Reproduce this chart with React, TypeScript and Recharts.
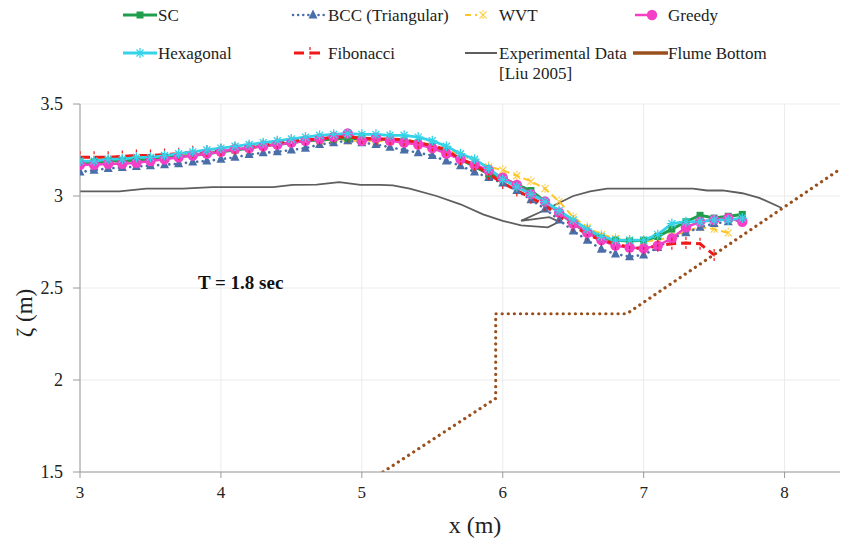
import React from "react";
import { ComposedChart, Line, XAxis, YAxis, CartesianGrid, Legend, ReferenceDot } from "recharts";

const xs = [
  3.0, 3.1, 3.2, 3.3, 3.4, 3.5, 3.6, 3.7, 3.8, 3.9,
  4.0, 4.1, 4.2, 4.3, 4.4, 4.5, 4.6, 4.7, 4.8, 4.9,
  5.0, 5.1, 5.2, 5.3, 5.4, 5.5, 5.6, 5.7, 5.8, 5.9,
  6.0, 6.1, 6.2, 6.3, 6.4, 6.5, 6.6, 6.7, 6.8, 6.9,
  7.0, 7.1, 7.2, 7.3, 7.4, 7.5, 7.6, 7.7, 7.8,
];

const scVals = [
  3.18, 3.185, 3.19, 3.19, 3.195, 3.2, 3.21, 3.215, 3.22, 3.23,
  3.24, 3.25, 3.26, 3.275, 3.28, 3.29, 3.3, 3.305, 3.31, 3.315,
  3.31, 3.31, 3.305, 3.3, 3.29, 3.27, 3.24, 3.2, 3.16, 3.12,
  3.1, 3.06, 3.03, 2.97, 2.91, 2.85, 2.8, 2.77, 2.76, 2.755,
  2.76, 2.78, 2.82, 2.86, 2.895, 2.88, 2.89, 2.9, null,
];

const bccVals = [
  3.13, 3.14, 3.15, 3.155, 3.16, 3.165, 3.17, 3.175, 3.185, 3.19,
  3.2, 3.21, 3.225, 3.235, 3.24, 3.25, 3.26, 3.28, 3.29, 3.3,
  3.29, 3.28, 3.265, 3.25, 3.235, 3.22, 3.19, 3.165, 3.13, 3.1,
  3.07, 3.03, 2.98, 2.93, 2.87, 2.81, 2.76, 2.71, 2.685, 2.67,
  2.68, 2.72, 2.77, 2.8, 2.83, 2.85, 2.86, 2.87, null,
];

const wvtVals = [
  3.18, 3.18, 3.19, 3.19, 3.2, 3.2, 3.21, 3.22, 3.23, 3.235,
  3.24, 3.25, 3.26, 3.27, 3.28, 3.29, 3.3, 3.3, 3.305, 3.3,
  3.3, 3.3, 3.295, 3.29, 3.285, 3.275, 3.255, 3.225, 3.19, 3.16,
  3.14, 3.11, 3.08, 3.04, 2.97, 2.885, 2.83, 2.79, 2.77, 2.76,
  2.755, 2.76, 2.78, 2.81, 2.83, 2.82, 2.8, null, null,
];

const greedyVals = [
  3.17, 3.17, 3.175, 3.175, 3.18, 3.19, 3.2, 3.21, 3.22, 3.23,
  3.24, 3.255, 3.26, 3.27, 3.28, 3.29, 3.3, 3.31, 3.32, 3.34,
  3.3, 3.315, 3.3, 3.29, 3.28, 3.26, 3.23, 3.2, 3.17, 3.14,
  3.1, 3.06, 3.01, 2.97, 2.91, 2.85, 2.8, 2.76, 2.73, 2.72,
  2.715, 2.73, 2.77, 2.83, 2.86, 2.87, 2.88, 2.86, null,
];

const hexVals = [
  3.19, 3.19, 3.2, 3.2, 3.21, 3.21, 3.22, 3.23, 3.24, 3.25,
  3.26, 3.27, 3.28, 3.29, 3.3, 3.31, 3.32, 3.33, 3.335, 3.34,
  3.335, 3.335, 3.33, 3.33, 3.32, 3.3, 3.27, 3.23, 3.2, 3.15,
  3.09, 3.05, 3.01, 2.97, 2.92, 2.87, 2.82, 2.78, 2.76, 2.76,
  2.76, 2.79, 2.85, 2.86, 2.86, 2.87, 2.87, 2.88, null,
];

const fibVals = [
  3.21, 3.21, 3.21, 3.215, 3.22, 3.22, 3.225, 3.23, 3.24, 3.245,
  3.25, 3.26, 3.265, 3.275, 3.29, 3.3, 3.305, 3.31, 3.32, 3.32,
  3.315, 3.31, 3.31, 3.305, 3.29, 3.275, 3.25, 3.2, 3.17, 3.12,
  3.07, 3.03, 2.99, 2.95, 2.89, 2.84, 2.79, 2.76, 2.74, 2.72,
  2.715, 2.73, 2.74, 2.745, 2.74, 2.68, null, null, null,
];

const expX = [
  3.0, 3.28, 3.47, 3.73, 3.94, 4.37, 4.51, 4.68, 4.84, 4.99,
  5.13, 5.22, 5.34, 5.53, 5.7, 5.86, 6.0, 6.13, 6.32, 6.4,
  6.33, 6.13, 6.26, 6.38, 6.5, 6.62, 6.74, 7.35, 7.45, 7.56,
  7.7, 7.82, 7.98,
];
const expY = [
  3.025, 3.025, 3.04, 3.04, 3.048, 3.048, 3.06, 3.062, 3.075, 3.06,
  3.06, 3.058, 3.04, 3.0, 2.955, 2.9, 2.865, 2.84, 2.83, 2.86,
  2.885, 2.865, 2.91, 2.955, 3.0, 3.025, 3.04, 3.04, 3.03, 3.03,
  3.015, 2.99, 2.935,
];

const flumeX = [5.15, 5.95, 5.95, 6.88, 8.45];
const flumeY = [1.5, 1.9, 2.36, 2.36, 3.175];

const xTicks = [3, 4, 5, 6, 7, 8];
const yTicks = [1.5, 2, 2.5, 3, 3.5];

const C = {
  sc: "#1f9f4c",
  bcc: "#4a6fa8",
  wvt: "#ffc526",
  greedy: "#f43fc6",
  hex: "#34d3ea",
  fib: "#f01818",
  exp: "#5e5e5e",
  flume: "#9a501c",
};

const toPts = (x: number[], y: (number | null)[]) =>
  x.map((v, i) => ({ x: v, y: y[i] })).filter((p) => p.y !== null && p.y !== undefined);

const scData = toPts(xs, scVals);
const bccData = toPts(xs, bccVals);
const wvtData = toPts(xs, wvtVals);
const greedyData = toPts(xs, greedyVals);
const hexData = toPts(xs, hexVals);
const fibData = toPts(xs, fibVals);
const expData = toPts(expX, expY);
const flumeData = toPts(flumeX, flumeY);

const FONT = "'Liberation Serif', 'Times New Roman', serif";
const legStyle = { fontFamily: FONT, fontSize: 17, fill: "#222" };
const tickStyleY = { fontFamily: FONT, fontSize: 18, fill: "#222" };
const tickStyleX = { fontFamily: FONT, fontSize: 17, fill: "#222" };

const Square = (cx: number, cy: number, k: any) => (
  <rect key={k} x={cx - 3.5} y={cy - 3.5} width={7} height={7} fill={C.sc} />
);
const Tri = (cx: number, cy: number, k: any) => (
  <polygon key={k} points={`${cx},${cy - 5.5} ${cx - 4.5},${cy + 3.5} ${cx + 4.5},${cy + 3.5}`} fill={C.bcc} />
);
const Circ = (cx: number, cy: number, k: any) => <circle key={k} cx={cx} cy={cy} r={5.2} fill={C.greedy} />;
const Star = (cx: number, cy: number, k: any) => (
  <g key={k} stroke={C.hex} strokeWidth={1.3}>
    <line x1={cx - 5} y1={cy} x2={cx + 5} y2={cy} />
    <line x1={cx} y1={cy - 5} x2={cx} y2={cy + 5} />
    <line x1={cx - 3.5} y1={cy - 3.5} x2={cx + 3.5} y2={cy + 3.5} />
    <line x1={cx - 3.5} y1={cy + 3.5} x2={cx + 3.5} y2={cy - 3.5} />
  </g>
);
const Plus = (cx: number, cy: number, k: any) => (
  <g key={k} stroke={C.fib} strokeWidth={1.2}>
    <line x1={cx} y1={cy - 6} x2={cx} y2={cy + 6} strokeDasharray="3 1.5" />
  </g>
);
const XMark = (cx: number, cy: number, k: any) => (
  <g key={k} stroke={C.wvt} strokeWidth={1.1} opacity={0.85}>
    <line x1={cx - 3.5} y1={cy - 3.5} x2={cx + 3.5} y2={cy + 3.5} />
    <line x1={cx - 3.5} y1={cy + 3.5} x2={cx + 3.5} y2={cy - 3.5} />
    <line x1={cx} y1={cy - 5} x2={cx} y2={cy + 5} strokeDasharray="2 1.5" />
  </g>
);

const dotFn = (shape: (cx: number, cy: number, k: any) => React.ReactElement, name: string) => (p: any) => {
  const k = `${name}-${p.index}`;
  if (p.cx == null || p.cy == null) return <g key={k} />;
  return shape(p.cx, p.cy, k);
};

const LegendContent = () => {
  const col = [123, 293, 465, 633];
  const txt = [158, 328, 499, 668];
  const r1 = 15;
  const r2 = 53;
  const T = (x: number, y: number, s: string) => (
    <text x={x} y={y} dominantBaseline="central" style={legStyle}>{s}</text>
  );
  return (
    <svg width={848} height={90} style={{ display: "block" }}>
      <line x1={col[0]} y1={r1} x2={col[0] + 34} y2={r1} stroke={C.sc} strokeWidth={3} />
      {Square(col[0] + 17, r1, "l1")}
      {T(txt[0], r1, "SC")}
      <line x1={col[1]} y1={r1} x2={col[1] + 34} y2={r1} stroke={C.bcc} strokeWidth={2.5} strokeDasharray="0.1 5" strokeLinecap="round" />
      {Tri(col[1] + 20, r1, "l2")}
      {T(txt[1], r1, "BCC (Triangular)")}
      <line x1={col[2]} y1={r1} x2={col[2] + 12} y2={r1} stroke={C.wvt} strokeWidth={2} strokeDasharray="6 4" />
      {XMark(col[2] + 18, r1, "l3")}
      {T(txt[2], r1, "WVT")}
      <line x1={col[3] + 2} y1={r1} x2={col[3] + 20} y2={r1} stroke={C.greedy} strokeWidth={2.5} />
      {Circ(col[3] + 19, r1, "l4")}
      {T(txt[3], r1, "Greedy")}
      <line x1={col[0]} y1={r2} x2={col[0] + 34} y2={r2} stroke={C.hex} strokeWidth={3} />
      {Star(col[0] + 17, r2, "l5")}
      {T(txt[0], r2, "Hexagonal")}
      <line x1={col[1] + 1} y1={r2} x2={col[1] + 33} y2={r2} stroke={C.fib} strokeWidth={3} strokeDasharray="10 6" />
      {Plus(col[1] + 17, r2, "l6")}
      {T(txt[1], r2, "Fibonacci")}
      <line x1={col[2]} y1={r2} x2={col[2] + 32} y2={r2} stroke={C.exp} strokeWidth={2} />
      {T(txt[2], r2, "Experimental Data")}
      {T(txt[2], r2 + 20, "[Liu 2005]")}
      <line x1={col[3]} y1={r2} x2={col[3] + 35} y2={r2} stroke={C.flume} strokeWidth={3.5} />
      {T(txt[3], r2, "Flume Bottom")}
    </svg>
  );
};

const XTick = (p: any) => (
  <text x={p.x} y={p.y} dy={13} textAnchor="middle" style={tickStyleX}>
    {p.payload.value}
  </text>
);
const YTick = (p: any) => (
  <text x={p.x} y={p.y} textAnchor="end" dominantBaseline="central" style={tickStyleY}>
    {p.payload.value}
  </text>
);

const YLab = (props: any) => {
  const vb = props.viewBox || { x: 0, y: 104, width: 80, height: 368 };
  const cx = vb.x + 24;
  const cy = vb.y + vb.height / 2 + 25;
  return (
    <text
      x={cx}
      y={cy}
      transform={`rotate(-90 ${cx} ${cy})`}
      textAnchor="middle"
      dominantBaseline="central"
      style={{ fontFamily: FONT, fontSize: 23, fill: "#222" }}
    >
      ζ (m)
    </text>
  );
};

const XLab = (props: any) => {
  const vb = props.viewBox || { x: 80, y: 472, width: 768, height: 62 };
  return (
    <text
      x={vb.x + vb.width / 2 + 11}
      y={vb.y + 61}
      textAnchor="middle"
      style={{ fontFamily: FONT, fontSize: 24, fill: "#222" }}
    >
      x (m)
    </text>
  );
};

export default function App() {
  return (
    <div style={{ width: 848, height: 541, marginTop: -8, marginLeft: -8 }}>
      <ComposedChart width={848} height={541} margin={{ top: 104, right: 0, bottom: 7, left: 0 }}>
        <CartesianGrid stroke="#ebebeb" strokeWidth={1} />
        <XAxis
          type="number"
          dataKey="x"
          domain={[3, 8.45]}
          ticks={xTicks}
          allowDataOverflow
          stroke="#9a9a9a"
          tick={XTick}
          tickSize={6}
          tickMargin={7}
          height={62}
          label={XLab}
        />
        <YAxis
          type="number"
          dataKey="y"
          domain={[1.5, 3.5]}
          ticks={yTicks}
          allowDataOverflow
          stroke="#9a9a9a"
          tick={YTick}
          tickSize={7}
          tickMargin={10}
          width={80}
          label={YLab}
        />
        <Legend
          verticalAlign="middle"
          align="center"
          width={848}
          height={90}
          wrapperStyle={{ top: 0, left: 0, width: 848, height: 90 }}
          content={LegendContent}
        />
        <Line data={flumeData} dataKey="y" type="linear" stroke={C.flume} strokeWidth={3.2} strokeDasharray="0.1 6" strokeLinecap="round" dot={false} isAnimationActive={false} legendType="none" />
        <Line data={expData} dataKey="y" type="linear" stroke={C.exp} strokeWidth={1.8} dot={false} isAnimationActive={false} />
        <Line data={wvtData} dataKey="y" type="linear" stroke={C.wvt} strokeWidth={2} strokeDasharray="7 4" dot={dotFn(XMark, "wvt")} isAnimationActive={false} />
        <Line data={bccData} dataKey="y" type="linear" stroke={C.bcc} strokeWidth={2.6} strokeDasharray="0.1 5.5" strokeLinecap="round" dot={dotFn(Tri, "bcc")} isAnimationActive={false} />
        <Line data={scData} dataKey="y" type="linear" stroke={C.sc} strokeWidth={3} dot={dotFn(Square, "sc")} isAnimationActive={false} />
        <Line data={greedyData} dataKey="y" type="linear" stroke={C.greedy} strokeWidth={2.5} dot={dotFn(Circ, "gr")} isAnimationActive={false} />
        <Line data={fibData} dataKey="y" type="linear" stroke={C.fib} strokeWidth={3} strokeDasharray="10 5" dot={dotFn(Plus, "fib")} isAnimationActive={false} />
        <Line data={hexData} dataKey="y" type="linear" stroke={C.hex} strokeWidth={2.8} dot={dotFn(Star, "hex")} isAnimationActive={false} />
        <ReferenceDot
          x={4.14}
          y={2.53}
          r={0}
          fill="none"
          stroke="none"
          label={{ value: "T = 1.8 sec", position: "center", style: { fontFamily: FONT, fontSize: 19, fontWeight: "bold", fill: "#111" } }}
        />
      </ComposedChart>
    </div>
  );
}
